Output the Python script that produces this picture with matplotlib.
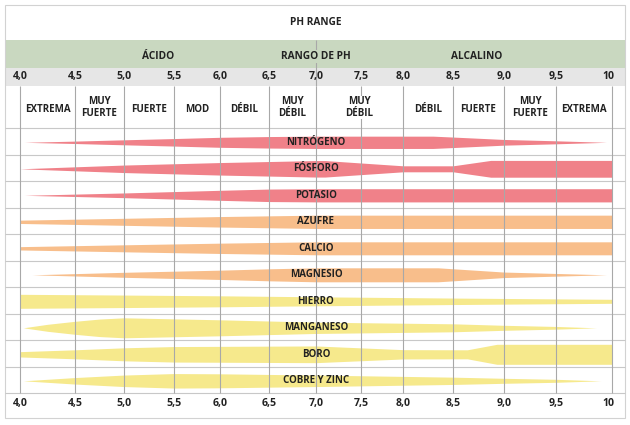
import numpy as np
import matplotlib.pyplot as plt
from matplotlib.patches import Rectangle

plt.rcParams['font.family'] = ['Open Sans', 'DejaVu Sans']

# --- datos ---
ph_ticks = [4.0, 4.5, 5.0, 5.5, 6.0, 6.5, 7.0, 7.5, 8.0, 8.5, 9.0, 9.5, 10.0]
tick_labels = ['4,0', '4,5', '5,0', '5,5', '6,0', '6,5', '7,0', '7,5', '8,0',
               '8,5', '9,0', '9,5', '10']

cat_labels = ['EXTREMA', 'MUY\nFUERTE', 'FUERTE', 'MOD', 'DÉBIL', 'MUY\nDÉBIL',
              'MUY\nDÉBIL', 'DÉBIL', 'FUERTE', 'MUY\nFUERTE', 'EXTREMA']
cat_lo = [4.0, 4.5, 5.0, 5.5, 6.0, 6.5, 7.0, 8.0, 8.5, 9.0, 9.5]
cat_hi = [4.5, 5.0, 5.5, 6.0, 6.5, 7.0, 8.0, 8.5, 9.0, 9.5, 10.0]

nutrientes = ['NITRÓGENO', 'FÓSFORO', 'POTASIO', 'AZUFRE', 'CALCIO',
              'MAGNESIO', 'HIERRO', 'MANGANESO', 'BORO', 'COBRE Y ZINC']

# grosor de cada banda (px) a lo largo del pH
n_ph = [4.04, 4.5, 5.0, 5.5, 6.0, 6.5, 7.0, 8.3, 8.5, 9.0, 9.5, 9.95]
n_t = [0, 2.4, 5, 7.5, 10, 11.5, 12.3, 12.3, 10.5, 5.7, 3, 0]

p_ph = [4.0, 5.0, 6.0, 7.0, 7.1, 8.0, 8.5, 8.87, 10.0]
p_t = [0, 7.5, 12.5, 16.5, 16.5, 6, 6, 16.8, 16.8]

k_ph = [4.04, 5.0, 6.0, 6.5, 7.0, 10.0]
k_t = [0, 4.7, 10, 12.5, 13.2, 13.2]

s_ph = [4.0, 5.0, 6.0, 7.0, 10.0]
s_t = [3.3, 7, 10.5, 13.3, 13.3]

ca_ph = [4.0, 5.0, 6.0, 7.0, 10.0]
ca_t = [3.3, 7, 10.3, 13, 13]

mg_ph = [4.11, 5.0, 6.0, 6.5, 7.0, 8.35, 9.0, 9.5, 9.95]
mg_t = [0, 5, 9.3, 12, 14, 14, 5.5, 2.7, 0]

fe_ph = [4.0, 5.0, 6.0, 7.0, 8.5, 10.0]
fe_t = [14, 12.5, 11, 9, 6.5, 4]

mn_ph = [4.03, 4.25, 4.5, 4.75, 5.0, 6.0, 7.0, 8.5, 9.0, 9.5, 9.86]
mn_t = [0, 7, 13, 17.5, 20, 16, 11.3, 8, 5, 2.7, 0]

b_ph = [4.0, 4.5, 5.0, 5.5, 7.0, 8.0, 8.64, 8.93, 10.0]
b_t = [5.3, 9, 13, 15.5, 16.7, 9.3, 9, 20, 20]

cu_ph = [4.03, 4.5, 5.0, 5.5, 6.0, 7.0, 8.5, 9.0, 9.5, 9.9]
cu_t = [0, 6.5, 11.5, 14.5, 14, 11.5, 7.3, 5, 3, 0]

perfiles = [(n_ph, n_t), (p_ph, p_t), (k_ph, k_t), (s_ph, s_t), (ca_ph, ca_t),
            (mg_ph, mg_t), (fe_ph, fe_t), (mn_ph, mn_t), (b_ph, b_t), (cu_ph, cu_t)]

rojo, naranja, amarillo = '#f08189', '#f8be8b', '#f6e98c'
colores = [rojo] * 3 + [naranja] * 3 + [amarillo] * 4

# --- escala de pH (las divisiones del dibujo no son uniformes) ---
knot_ph = [3.5] + ph_ticks + [10.5]
knot_px = [-35, 20, 75, 124, 174, 220, 269, 316, 361, 403, 453, 504, 556, 612, 668]

def fwd(v):
    return np.interp(v, knot_ph, knot_px)

def inv(v):
    return np.interp(v, knot_px, knot_ph)

W, H = 630, 425
RH = 26.5  # alto de fila en px

def py(px):
    # pixel vertical -> unidades de fila
    return -0.5 + (px - 128) / RH

fig = plt.figure(figsize=(W / 100, H / 100), dpi=100)
ax = fig.add_axes([0, 0, 1, 1])
ax.set_xscale('function', functions=(fwd, inv))
ax.set_xlim(inv(0), inv(W))
ax.set_ylim(py(H), py(0))
ax.axis('off')

xl, xr = inv(5), inv(625)
txt = '#222222'
linea = '#a8a8a8'

# franjas de cabecera
ax.fill_between([xl, xr], py(40), py(68), color='#c9d8c0', lw=0)
ax.fill_between([xl, xr], py(68), py(86), color='#e6e6e6', lw=0)

# rejilla
ax.hlines(np.arange(-0.5, len(nutrientes)), xl, xr, color='#c8c8c8', lw=0.8)
ax.vlines(ph_ticks, py(86), py(393), color=linea, lw=0.8)
ax.vlines(7.0, py(40), py(86), color=linea, lw=0.8)

# bandas
for i, ((ph, t), c, nom) in enumerate(zip(perfiles, colores, nutrientes)):
    yc = i + 0.04
    half = np.array(t) / 2 / RH
    ax.fill_between(ph, yc - half, yc + half, color=c, lw=0)
    ax.text(7.0, yc, nom, ha='center', va='center', fontsize=7,
            fontweight='bold', color=txt)

# textos de cabecera
ax.text(7.0, py(22.5), 'PH RANGE', ha='center', va='center', fontsize=7.3,
        fontweight='bold', color=txt)
for x, s in [(inv(158), 'ÁCIDO'), (7.0, 'RANGO DE PH'), (inv(477), 'ALCALINO')]:
    ax.text(x, py(56.5), s, ha='center', va='center', fontsize=7.3,
            fontweight='bold', color=txt,
            bbox=dict(fc='#c9d8c0', ec='none', pad=0.5))

for x, s in zip(ph_ticks, tick_labels):
    if s == '10':
        x = inv(608)
    ax.text(x, py(76.5), s, ha='center', va='center', fontsize=7.6,
            fontweight='bold', color=txt)
    ax.text(x, py(403.5), s, ha='center', va='center', fontsize=7.6,
            fontweight='bold', color=txt)

for s, lo, hi in zip(cat_labels, cat_lo, cat_hi):
    xc = inv((fwd(lo) + fwd(hi)) / 2)
    yy = py(107.5) if '\n' in s else py(110)
    ax.text(xc, yy, s, ha='center', va='center', fontsize=7,
            fontweight='bold', color=txt, linespacing=1.15,
            bbox=dict(fc='white', ec='none', pad=0.3))

# marco exterior
ax.add_patch(Rectangle((5 / W, 1 - 418 / H), 620 / W, 413 / H,
                       transform=ax.transAxes, fill=False, ec='#d2d2d2', lw=0.8))

fig.savefig('out.png', dpi=100, facecolor='white')
